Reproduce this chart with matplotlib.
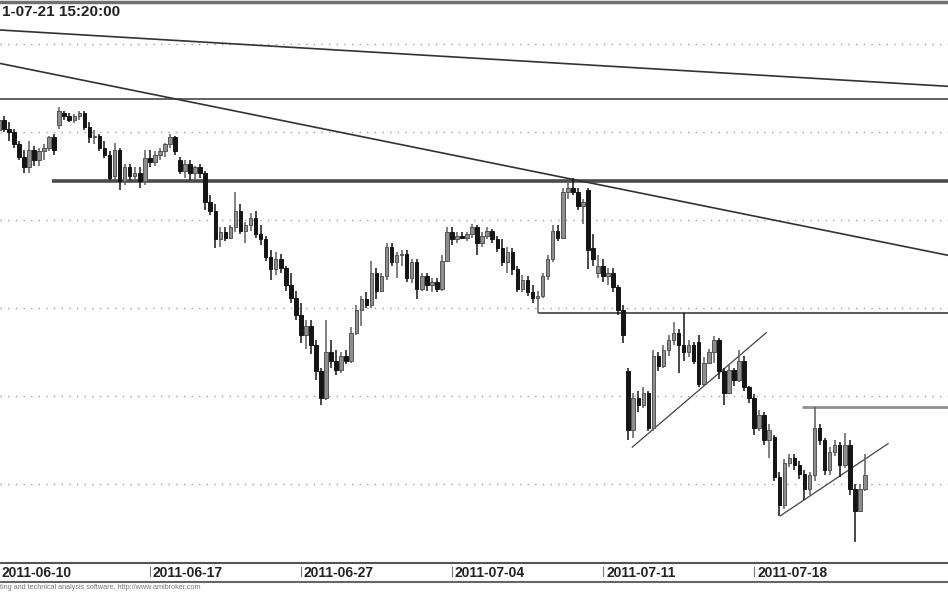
import numpy as np
import matplotlib
matplotlib.use("Agg")
from matplotlib import pyplot as plt
from matplotlib.lines import Line2D
import matplotlib.transforms as mtransforms

plt.rcParams['font.family'] = ['Liberation Sans', 'DejaVu Sans']

# intraday bars, 2011-06-10 .. 2011-07-21
opens = [
    2851, 2857, 2852, 2850, 2843, 2836, 2830, 2840, 2834, 2839,
    2841, 2847, 2854, 2861, 2859, 2857, 2859, 2861, 2853, 2847,
    2848, 2841, 2837, 2825, 2840, 2822, 2830, 2825, 2827, 2822,
    2835, 2833, 2837, 2839, 2843, 2847, 2834, 2828, 2832, 2827,
    2830, 2827, 2810, 2805, 2789, 2793, 2790, 2796, 2805, 2794,
    2797, 2801, 2792, 2789, 2779, 2772, 2778, 2773, 2763, 2756,
    2746, 2735, 2740, 2729, 2714, 2699, 2725, 2720, 2715, 2723,
    2720, 2736, 2749, 2755, 2752, 2770, 2760, 2768, 2785, 2776,
    2780, 2781, 2767, 2776, 2761, 2768, 2763, 2765, 2761, 2777,
    2793, 2789, 2791, 2790, 2792, 2796, 2787, 2791, 2794, 2789,
    2784, 2776, 2782, 2772, 2761, 2766, 2759, 2756, 2757, 2768,
    2778, 2794, 2790, 2816, 2818, 2816, 2808, 2817, 2784, 2770,
    2774, 2768, 2770, 2762, 2749, 2714, 2681, 2699, 2695, 2702,
    2682, 2723, 2717, 2726, 2732, 2736, 2729, 2725, 2729, 2731,
    2707, 2719, 2725, 2732, 2714, 2702, 2715, 2709, 2720, 2705,
    2699, 2682, 2689, 2675, 2677, 2654, 2638, 2662, 2665, 2661,
    2656, 2647, 2655, 2682, 2675, 2658, 2668, 2672, 2661, 2672,
    2647, 2635, 2647]
highs = [
    2860, 2859, 2856, 2852, 2845, 2840, 2845, 2842, 2841, 2843,
    2848, 2849, 2864, 2862, 2861, 2860, 2862, 2862, 2856, 2851,
    2849, 2845, 2839, 2844, 2841, 2832, 2832, 2830, 2830, 2840,
    2840, 2839, 2841, 2844, 2849, 2848, 2836, 2834, 2834, 2831,
    2832, 2828, 2814, 2809, 2796, 2796, 2797, 2816, 2809, 2799,
    2804, 2805, 2797, 2791, 2783, 2782, 2781, 2774, 2770, 2760,
    2753, 2743, 2743, 2732, 2716, 2743, 2732, 2726, 2725, 2726,
    2739, 2752, 2757, 2759, 2777, 2773, 2770, 2787, 2787, 2782,
    2783, 2783, 2778, 2778, 2770, 2770, 2767, 2767, 2780, 2796,
    2796, 2793, 2793, 2793, 2798, 2797, 2793, 2796, 2795, 2791,
    2789, 2785, 2784, 2774, 2769, 2768, 2763, 2760, 2770, 2780,
    2797, 2797, 2818, 2822, 2824, 2818, 2812, 2818, 2792, 2780,
    2778, 2773, 2773, 2763, 2752, 2716, 2702, 2703, 2705, 2703,
    2726, 2725, 2729, 2735, 2742, 2738, 2747, 2732, 2731, 2735,
    2722, 2727, 2734, 2733, 2716, 2718, 2716, 2726, 2723, 2706,
    2701, 2692, 2691, 2684, 2678, 2657, 2664, 2667, 2667, 2663,
    2658, 2657, 2694, 2684, 2676, 2671, 2675, 2674, 2679, 2675,
    2650, 2650, 2667]
lows = [
    2847, 2850, 2845, 2841, 2834, 2827, 2827, 2831, 2831, 2834,
    2839, 2837, 2852, 2857, 2856, 2855, 2857, 2851, 2844, 2843,
    2839, 2835, 2823, 2823, 2817, 2820, 2823, 2822, 2818, 2820,
    2830, 2831, 2834, 2836, 2841, 2837, 2826, 2824, 2823, 2823,
    2824, 2806, 2803, 2784, 2785, 2788, 2789, 2793, 2792, 2787,
    2794, 2790, 2786, 2777, 2766, 2769, 2770, 2760, 2753, 2743,
    2730, 2727, 2724, 2709, 2695, 2698, 2716, 2712, 2713, 2718,
    2719, 2735, 2740, 2750, 2750, 2755, 2759, 2766, 2774, 2767,
    2774, 2765, 2764, 2755, 2760, 2760, 2759, 2759, 2760, 2776,
    2786, 2787, 2789, 2788, 2790, 2780, 2785, 2789, 2787, 2782,
    2774, 2770, 2769, 2759, 2759, 2757, 2753, 2747, 2756, 2766,
    2776, 2788, 2789, 2812, 2814, 2806, 2798, 2772, 2774, 2767,
    2765, 2763, 2759, 2746, 2730, 2675, 2676, 2691, 2693, 2680,
    2680, 2714, 2716, 2723, 2729, 2713, 2720, 2722, 2718, 2705,
    2706, 2718, 2719, 2710, 2695, 2701, 2706, 2708, 2703, 2696,
    2678, 2680, 2672, 2665, 2652, 2632, 2636, 2660, 2658, 2653,
    2641, 2644, 2652, 2672, 2655, 2655, 2666, 2654, 2659, 2644,
    2617, 2634, 2646]
closes = [
    2857, 2852, 2850, 2843, 2836, 2830, 2840, 2834, 2839, 2841,
    2847, 2840, 2862, 2859, 2857, 2859, 2861, 2853, 2847, 2848,
    2841, 2837, 2824, 2840, 2822, 2830, 2825, 2827, 2822, 2835,
    2833, 2837, 2839, 2843, 2847, 2839, 2828, 2832, 2827, 2830,
    2827, 2810, 2805, 2789, 2793, 2790, 2796, 2805, 2794, 2797,
    2801, 2792, 2789, 2779, 2772, 2778, 2773, 2763, 2756, 2746,
    2735, 2740, 2729, 2714, 2699, 2725, 2720, 2715, 2723, 2720,
    2736, 2749, 2755, 2752, 2770, 2760, 2768, 2785, 2776, 2780,
    2781, 2767, 2776, 2761, 2768, 2763, 2765, 2761, 2777, 2793,
    2789, 2791, 2790, 2792, 2796, 2787, 2791, 2794, 2789, 2784,
    2776, 2782, 2772, 2761, 2766, 2759, 2756, 2757, 2768, 2778,
    2794, 2790, 2816, 2818, 2816, 2808, 2810, 2783, 2778, 2774,
    2768, 2770, 2762, 2749, 2735, 2681, 2699, 2695, 2702, 2682,
    2723, 2717, 2726, 2732, 2736, 2729, 2725, 2729, 2720, 2707,
    2719, 2725, 2732, 2714, 2702, 2715, 2709, 2720, 2705, 2699,
    2682, 2689, 2675, 2681, 2654, 2638, 2662, 2665, 2661, 2656,
    2647, 2655, 2682, 2675, 2658, 2668, 2672, 2661, 2672, 2647,
    2635, 2647, 2655]

date_ticks = [0, 30, 60, 90, 120, 150]
date_labels = ["2011-06-10", "2011-06-17", "2011-06-27",
               "2011-07-04", "2011-07-11", "2011-07-18"]
grid_levels = [2650, 2700, 2750, 2800, 2850, 2900]

# horizontal levels: price, first bar
level_prices = [2869, 2822, 2747, 2694]
level_starts = [0, 10.6, 107.1, 159.5]
# long falling trend lines (two points each, extended)
trend_a = [(0.25, 2908), (188.5, 2876)]
trend_b = [(0.25, 2889), (188.5, 2780)]
# short rising lines
rise_a = [(125.8, 2671), (152.4, 2736)]
rise_b = [(155.2, 2632), (176.6, 2673)]

title = "1-07-21 15:20:00"
footer = "ting and technical analysis software, http://www.amibroker.com"

fig = plt.figure(figsize=(9.48, 5.93), dpi=100)
ax = fig.add_axes([0, 1 - 563 / 593, 1, 561 / 593])
xmin, xmax = 0.25, 188.5
ax.set_xlim(xmin, xmax)
ax.set_ylim(2605.2, 2923.9)

# dotted grid
ax.hlines(grid_levels, xmin, xmax, colors="#a0a0a0", linestyles=(0, (1, 4.5)),
          lw=1, zorder=1)

# levels
lw_levels = [1.3, 2.6, 1.4, 2.0]
col_levels = ["#555555", "#4a4a4a", "#5a5a5a", "#909090"]
for p, s, w, cl in zip(level_prices, level_starts, lw_levels, col_levels):
    ax.hlines(p, s, xmax, colors=cl, lw=w, zorder=2)

ax.axline(trend_a[0], trend_a[1], color="#333333", lw=1.2, zorder=2)
ax.axline(trend_b[0], trend_b[1], color="#333333", lw=1.2, zorder=2)
ax.plot(*zip(*rise_a), color="#444444", lw=0.9, zorder=2)
ax.plot(*zip(*rise_b), color="#444444", lw=0.9, zorder=2)

# candles
o = np.array(opens, float)
h = np.array(highs, float)
l = np.array(lows, float)
c = np.array(closes, float)
x = np.arange(len(c))
up = c >= o
lo = np.minimum(o, c)
hh = np.maximum(np.abs(c - o), 0.8)

ax.vlines(x[up], l[up], h[up], color="#5e5e5e", lw=1.1, zorder=3)
ax.vlines(x[~up], l[~up], h[~up], color="#151515", lw=1.1, zorder=3)
ax.bar(x[up], hh[up], 0.7, bottom=lo[up], color="#8e8e8e",
       edgecolor="#555555", lw=0.7, zorder=4)
ax.bar(x[~up], hh[~up], 0.7, bottom=lo[~up], color="#151515",
       edgecolor="#151515", lw=0.7, zorder=4)

ax.set_xticks([])
ax.set_yticks([])
for s in ["left", "right"]:
    ax.spines[s].set_visible(False)
ax.spines["top"].set_color("#707070")
ax.spines["top"].set_linewidth(2.5)
ax.spines["bottom"].set_color("#555555")
ax.spines["bottom"].set_linewidth(1.5)

# date axis
trans = ax.get_xaxis_transform()
off = mtransforms.ScaledTranslation(0.03, 0, fig.dpi_scale_trans)
for t, lab in zip(date_ticks, date_labels):
    ax.plot([t, t], [-0.0071, -0.0232], transform=trans, color="#777777",
            lw=0.8, clip_on=False)
    ax.text(t, -0.0178, lab, transform=trans + off, ha="left", va="center",
            fontsize=10, fontweight="bold", color="#222222", clip_on=False)

fig.add_artist(Line2D([0, 1], [1 - 582 / 593] * 2, color="#666666", lw=1.5))
fig.text(0.0, 1 - 587.5 / 593, footer, fontsize=5.2, color="#777777",
         ha="left", va="center")
fig.text(0.002, 1 - 12 / 593, title, fontsize=11, fontweight="bold",
         color="#222222", ha="left", va="center")

fig.savefig("out.png", dpi=100)
